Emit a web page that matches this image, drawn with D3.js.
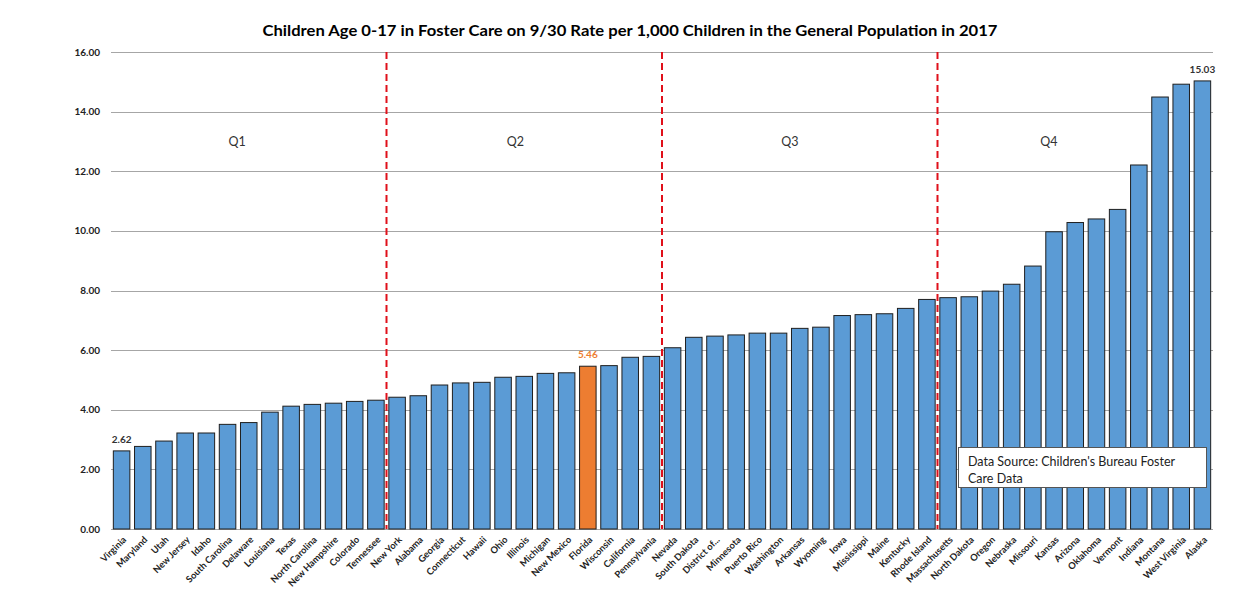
<!DOCTYPE html>
<html><head><meta charset="utf-8">
<script src="https://cdn.jsdelivr.net/npm/d3@7"></script>
<style>body{margin:0;background:#fff}svg{display:block}text{font-family:Lato,"Open Sans","Liberation Sans",sans-serif}</style>
</head><body><svg id="c" width="1249" height="592"></svg>
<script>
const states = ["Virginia","Maryland","Utah","New Jersey","Idaho","South Carolina","Delaware","Louisiana","Texas","North Carolina","New Hampshire","Colorado","Tennessee",
"New York","Alabama","Georgia","Connecticut","Hawaii","Ohio","Illinois","Michigan","New Mexico","Florida","Wisconsin","California","Pennsylvania",
"Nevada","South Dakota","District of...","Minnesota","Puerto Rico","Washington","Arkansas","Wyoming","Iowa","Mississippi","Maine","Kentucky","Rhode Island",
"Massachusetts","North Dakota","Oregon","Nebraska","Missouri","Kansas","Arizona","Oklahoma","Vermont","Indiana","Montana","West Virginia","Alaska"];
const rates = [2.62,2.77,2.95,3.22,3.22,3.51,3.57,3.92,4.12,4.18,4.22,4.28,4.32,
4.42,4.47,4.83,4.90,4.92,5.09,5.12,5.22,5.24,5.46,5.48,5.76,5.79,
6.08,6.43,6.47,6.51,6.57,6.57,6.73,6.77,7.16,7.19,7.22,7.40,7.70,
7.76,7.79,7.98,8.21,8.82,9.97,10.28,10.40,10.72,12.21,14.49,14.92,15.03];
const yTicks = [0,2,4,6,8,10,12,14,16];
const quarterLabels = ["Q1","Q2","Q3","Q4"];
const quarterBreaks = ["New York","Nevada","Massachusetts"];
const highlight = "Florida";
const labeled = ["Virginia","Florida","Alaska"];
const title = "Children Age 0-17 in Foster Care on 9/30 Rate per 1,000 Children in the General Population in 2017";
const sourceLines = ["Data Source: Children's Bureau Foster","Care Data"];

const svg = d3.select("#c");
const L=111, R=1213, T=52, B=529;
const x = d3.scaleBand().domain(states).range([L,R]).paddingInner(0.22).paddingOuter(0.11);
const y = d3.scaleLinear().domain([0,16]).range([B,T]);

svg.append("text").attr("x",630).attr("y",36).attr("text-anchor","middle")
  .attr("font-size",15.5).attr("font-weight","bold").attr("fill","#000")
  .attr("textLength",735).attr("lengthAdjust","spacingAndGlyphs").text(title);

// grid
svg.append("g").selectAll("line").data(yTicks).join("line")
  .attr("x1",L).attr("x2",R).attr("y1",d=>Math.round(y(d))+0.5).attr("y2",d=>Math.round(y(d))+0.5)
  .attr("stroke","#a6a6a6").attr("stroke-width",1);
svg.append("g").selectAll("text").data(yTicks).join("text")
  .attr("x",100).attr("y",d=>y(d)).attr("dy","0.35em").attr("text-anchor","end")
  .attr("font-size",10).attr("font-weight","bold").attr("fill","#222")
  .text(d=>d3.format(".2f")(d));

// bars
svg.append("g").selectAll("rect").data(states).join("rect")
  .attr("x",d=>x(d)).attr("width",x.bandwidth())
  .attr("y",(d,i)=>y(rates[i])).attr("height",(d,i)=>B-y(rates[i]))
  .attr("fill",d=>d===highlight?"#ed7d31":"#5b9bd5")
  .attr("stroke","#1f1f1f").attr("stroke-width",1);

// dashed quarter lines
const step = x.step();
svg.append("g").selectAll("line").data(quarterBreaks).join("line")
  .attr("x1",d=>x(d)-step*x.paddingInner()/2).attr("x2",d=>x(d)-step*x.paddingInner()/2)
  .attr("y1",T).attr("y2",B)
  .attr("stroke","#e0101a").attr("stroke-width",2).attr("stroke-dasharray","7,4");

// quarter labels
const qOffsets = [5.95,6.08,6.03,5.25];
const qStarts = [states[0]].concat(quarterBreaks);
svg.append("g").selectAll("text").data(quarterLabels).join("text")
  .attr("x",(d,i)=>x(qStarts[i])-step*0.11+step*qOffsets[i]).attr("y",y(13))
  .attr("dy","0.35em").attr("text-anchor","middle").attr("font-size",12.5).attr("fill","#333")
  .text(d=>d);

// data labels
svg.append("g").selectAll("text").data(labeled).join("text")
  .attr("x",d=>x(d)+x.bandwidth()/2).attr("y",d=>y(rates[states.indexOf(d)])-8)
  .attr("text-anchor","middle").attr("font-size",10).attr("font-weight","bold")
  .attr("fill",d=>d===highlight?"#ed7d31":"#333")
  .text(d=>d3.format(".2f")(rates[states.indexOf(d)]));

// x labels
svg.append("g").selectAll("text").data(states).join("text")
  .attr("transform",d=>`translate(${x(d)+x.bandwidth()/2+3},${B+9}) rotate(-45)`)
  .attr("text-anchor","end").attr("dy","0.35em")
  .attr("font-size",9.3).attr("font-weight","bold").attr("fill","#222").text(d=>d);

// source box
const sb = svg.append("g");
sb.append("rect").attr("x",958.5).attr("y",447.5).attr("width",248).attr("height",40)
  .attr("fill","#fff").attr("stroke","#555").attr("stroke-width",1);
sb.selectAll("text").data(sourceLines).join("text")
  .attr("x",968).attr("y",(d,i)=>466+i*17).attr("font-size",12.5).attr("fill","#222").text(d=>d);
</script></body></html>
